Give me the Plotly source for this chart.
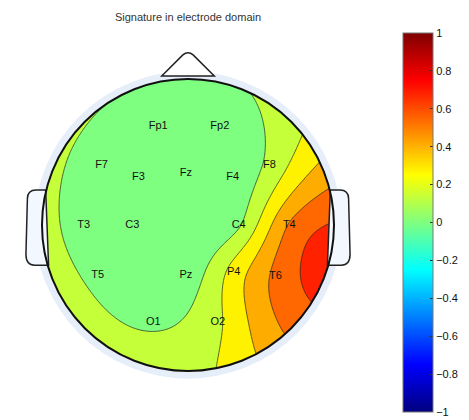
import numpy as np
import plotly.graph_objects as go

# ---------------- data ----------------
electrodes = ["Fp1", "Fp2", "F7", "F3", "Fz", "F4", "F8", "T3", "C3", "C4",
              "T4", "T5", "Pz", "P4", "T6", "O1", "O2"]
elec_x = [-0.204, 0.218, -0.592, -0.340, -0.014, 0.306, 0.558, -0.714, -0.381, 0.347,
          0.694, -0.619, -0.014, 0.313, 0.599, -0.238, 0.204]
elec_y = [0.673, 0.673, 0.408, 0.327, 0.354, 0.327, 0.408, 0.0, 0.0, 0.0,
          0.0, -0.347, -0.347, -0.327, -0.354, -0.667, -0.667]
elec_val = [0.03, 0.06, 0.04, 0.02, 0.03, 0.04, 0.17, 0.07, 0.02, 0.12,
            0.56, 0.10, 0.06, 0.33, 0.58, 0.12, 0.25]
cbar_ticks = [-1, -0.8, -0.6, -0.4, -0.2, 0, 0.2, 0.4, 0.6, 0.8, 1]
title_text = "Signature in electrode domain"

# ---------------- biharmonic spline interpolation (griddata v4) ----------------
ex = np.array(elec_x); ey = np.array(elec_y); ev = np.array(elec_val)

def green(d):
    with np.errstate(divide="ignore", invalid="ignore"):
        g = d ** 2 * (np.log(d) - 1)
    g[d == 0] = 0
    return g

D = np.hypot(ex[:, None] - ex[None, :], ey[:, None] - ey[None, :])
w = np.linalg.solve(green(D), ev)
gx = np.linspace(-1.08, 1.08, 241)
gy = np.linspace(-1.08, 1.08, 241)
GX, GY = np.meshgrid(gx, gy)
dd = np.hypot(GX[..., None] - ex, GY[..., None] - ey)
Z = (green(dd) * w).sum(-1)


def jet(v):
    x = (v + 1) / 2
    r = np.clip(1.5 - abs(4 * x - 3), 0, 1)
    g = np.clip(1.5 - abs(4 * x - 2), 0, 1)
    b = np.clip(1.5 - abs(4 * x - 1), 0, 1)
    return f"rgb({int(r*255)},{int(g*255)},{int(b*255)})"

step = 0.137
levels = [step * k for k in range(1, 7)]
band_vals = [0.0] + levels
nb = len(band_vals)
fill_scale = [[k / (nb - 1), jet(v)] for k, v in enumerate(band_vals)]
jet_scale = [[i / 64, jet(-1 + 2 * i / 64)] for i in range(65)]

# ---------------- geometry (figure pixels) ----------------
W, H = 461, 412
PX = 146.0                     # pixels per head radius
ML, MT, PW, PH = 5, 27, 350, 380
CX, CY = 180, 217              # head centre in figure pixels
xr = [(ML - CX) / PX, (ML + PW - CX) / PX]
yr = [-(MT + PH - CY) / PX, (CY - MT) / PX]

fig = go.Figure()
fig.add_trace(go.Contour(
    x=gx, y=gy, z=Z,
    contours=dict(start=levels[0], end=levels[-1], size=step, coloring="fill"),
    colorscale=fill_scale, showscale=False,
    line=dict(color="#222222", width=0.7),
    hoverinfo="skip",
))

fig.add_trace(go.Scatter(
    x=[None, None], y=[None, None], mode="markers",
    marker=dict(color=[-1, 1], cmin=-1, cmax=1, colorscale=jet_scale, showscale=True,
                colorbar=dict(x=(395 - ML) / PW, xanchor="left", xpad=0, ypad=0,
                              y=(MT + PH - 214.5) / PH, yanchor="middle", len=379, lenmode="pixels",
                              thickness=30, thicknessmode="pixels",
                              tickvals=cbar_ticks, ticks="inside", ticklen=3,
                              tickcolor="#333333", outlinewidth=1, outlinecolor="#777777",
                              tickfont=dict(family="Liberation Sans", size=11, color="#111111"))),
    hoverinfo="skip", showlegend=False,
))

fig.add_trace(go.Scatter(
    x=elec_x, y=elec_y, mode="text", text=electrodes,
    textfont=dict(family="Liberation Sans", size=11, color="#111111"),
    hoverinfo="skip", showlegend=False,
))

# ---------------- head outline shapes ----------------
t = np.linspace(0, 2 * np.pi, 181)
R = 1.0
circ = " ".join(("M" if i == 0 else "L") + f"{R*np.cos(a):.4f},{R*np.sin(a):.4f}" for i, a in enumerate(t)) + " Z"
mask = "M-3,-3 L3,-3 L3,3 L-3,3 Z " + circ
shapes = [
    dict(type="path", path=mask, fillcolor="white", line=dict(width=0), layer="above", fillrule="evenodd"),
    dict(type="circle", x0=-1.025, x1=1.025, y0=-1.025, y1=1.025, line=dict(color="#E6EEFA", width=8), layer="above"),
]
ear_r = "M0.975,0.24 L1.04,0.24 Q1.1,0.24 1.1,0.18 L1.11,-0.2 Q1.11,-0.275 1.05,-0.275 L0.955,-0.275 Z"
ear_l = "M-0.975,0.24 L-1.04,0.24 Q-1.1,0.24 -1.1,0.18 L-1.11,-0.2 Q-1.11,-0.275 -1.05,-0.275 L-0.955,-0.275 Z"
for p in (ear_r, ear_l):
    shapes.append(dict(type="path", path=p, fillcolor="#F3F7FF", line=dict(color="#222222", width=1.5), layer="above"))
shapes.append(dict(type="path", path="M-0.18,1.02 L-0.035,1.165 Q0,1.195 0.035,1.165 L0.18,1.02 Z",
                   fillcolor="white", line=dict(color="#222222", width=1.5), layer="above"))
shapes.append(dict(type="circle", x0=-R, x1=R, y0=-R, y1=R, line=dict(color="#111111", width=2), layer="above"))

fig.update_layout(
    width=W, height=H,
    margin=dict(l=ML, r=W - ML - PW, t=MT, b=H - MT - PH),
    paper_bgcolor="white", plot_bgcolor="white",
    xaxis=dict(range=xr, visible=False, showgrid=False, zeroline=False),
    yaxis=dict(range=yr, visible=False, showgrid=False, zeroline=False),
    shapes=shapes,
    showlegend=False,
    title=dict(text=title_text, x=CX / W, xanchor="center", y=1 - 9 / H, yanchor="middle",
               xref="container", yref="container",
               font=dict(family="Liberation Sans", size=11, color="#333333")),
)
fig.write_html("out.html")
